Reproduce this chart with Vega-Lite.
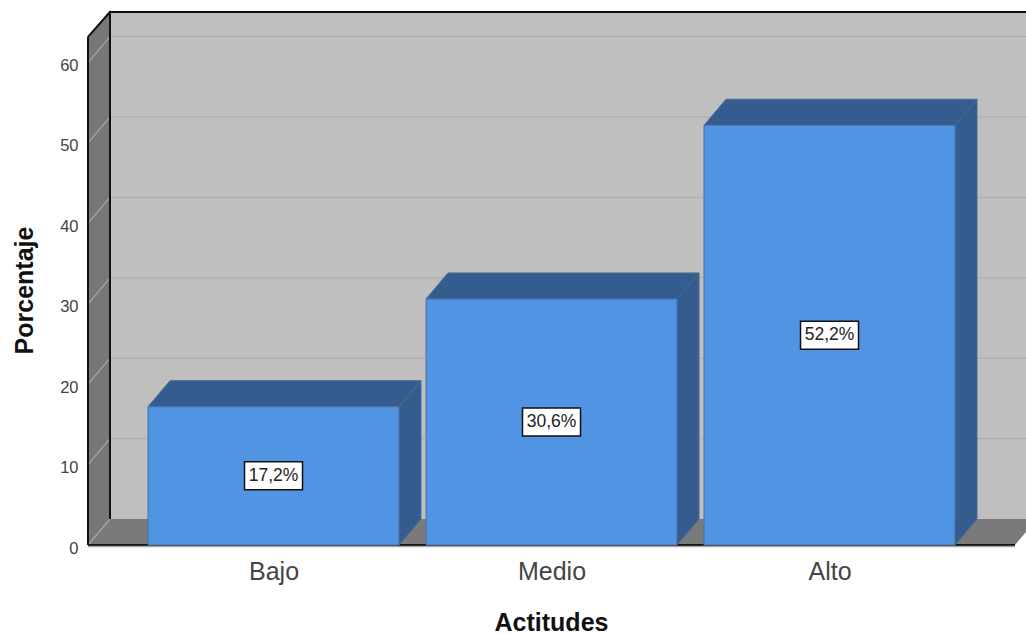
{
  "$schema": "https://vega.github.io/schema/vega-lite/v6.json",
  "width": 938,
  "height": 533,
  "autosize": {"type": "none"},
  "padding": {"left": 88, "top": 12, "right": 0, "bottom": 89},
  "background": "white",
  "view": {"stroke": null},
  "params": [
    {"name": "dx", "value": 0.0791},
    {"name": "dy", "value": 3.234},
    {"name": "xIni", "value": -0.6673},
    {"name": "xFin", "value": 2.667},
    {"name": "yFrente", "value": 63.2},
    {"name": "mitad", "value": 0.4514}
  ],
  "datasets": {
    "barras": [
      {"Actitud": "Bajo", "orden": 0, "Porcentaje": 17.2, "etiqueta": "17,2%"},
      {"Actitud": "Medio", "orden": 1, "Porcentaje": 30.6, "etiqueta": "30,6%"},
      {"Actitud": "Alto", "orden": 2, "Porcentaje": 52.2, "etiqueta": "52,2%"}
    ],
    "bordes": [{"borde": 0}, {"borde": 1}],
    "niveles": [{"nivel": 0}, {"nivel": 10}, {"nivel": 20}, {"nivel": 30}, {"nivel": 40}, {"nivel": 50}, {"nivel": 60}]
  },
  "config": {
    "axisX": {
      "domain": false, "ticks": false, "grid": false,
      "labelFont": "Liberation Sans", "labelFontSize": 25, "labelColor": "#444444", "labelPadding": 14,
      "labelFlush": false, "labelOverlap": false,
      "titleFont": "Liberation Sans", "titleFontSize": 25, "titleFontWeight": "bold", "titleColor": "#111111",
      "titleX": 463, "titleY": 77, "titleBaseline": "middle", "titleAnchor": "middle", "titleAlign": "center"
    },
    "axisY": {
      "domain": false, "ticks": false, "grid": false,
      "labelFont": "Liberation Sans", "labelFontSize": 16.5, "labelColor": "#444444", "labelPadding": 10, "labelOffset": 3,
      "labelFlush": false,
      "titleFont": "Liberation Sans", "titleFontSize": 25, "titleFontWeight": "bold", "titleColor": "#111111",
      "titleX": -64, "titleY": 278, "titleAngle": -90, "titleBaseline": "middle", "titleAlign": "center"
    }
  },
  "layer": [
    {
      "data": {"values": [{"izq": -0.5882, "der": 2.7068, "abajo": 3.234, "arriba": 66.29}]},
      "mark": {"type": "rect", "fill": "#bfbfbf"},
      "encoding": {
        "x": {
          "field": "izq", "type": "quantitative",
          "scale": {"domain": [-0.6673, 2.7068], "nice": false, "zero": false},
          "axis": {"title": "Actitudes", "values": [0, 1, 2], "labelExpr": "['Bajo','Medio','Alto'][datum.value]"}
        },
        "x2": {"field": "der"},
        "y": {
          "field": "abajo", "type": "quantitative",
          "scale": {"domain": [0, 66.29], "nice": false, "zero": false},
          "axis": {"title": "Porcentaje", "values": [0, 10, 20, 30, 40, 50, 60]}
        },
        "y2": {"field": "arriba"}
      }
    },
    {
      "data": {"name": "bordes"},
      "transform": [
        {"calculate": "xIni + datum.borde * dx", "as": "px"},
        {"calculate": "datum.borde * dy", "as": "abajo"},
        {"calculate": "yFrente + datum.borde * dy", "as": "arriba"}
      ],
      "mark": {"type": "area", "fill": "#777777", "orient": "vertical"},
      "encoding": {
        "x": {"field": "px", "type": "quantitative", "scale": {"domain": [-0.6673, 2.7068], "nice": false, "zero": false}},
        "y": {"field": "abajo", "type": "quantitative", "scale": {"domain": [0, 66.29], "nice": false, "zero": false}, "stack": null},
        "y2": {"field": "arriba"}
      }
    },
    {
      "data": {"name": "bordes"},
      "transform": [
        {"calculate": "xIni + datum.borde * dx", "as": "izq"},
        {"calculate": "xFin + datum.borde * dx", "as": "der"},
        {"calculate": "datum.borde * dy", "as": "alto"}
      ],
      "mark": {"type": "area", "fill": "#7a7a7a", "orient": "horizontal", "clip": true},
      "encoding": {
        "y": {"field": "alto", "type": "quantitative", "scale": {"domain": [0, 66.29], "nice": false, "zero": false}},
        "x": {"field": "izq", "type": "quantitative", "scale": {"domain": [-0.6673, 2.7068], "nice": false, "zero": false}, "stack": null},
        "x2": {"field": "der"}
      }
    },
    {
      "data": {"name": "niveles"},
      "transform": [
        {"filter": "datum.nivel > 0"},
        {"calculate": "xIni + dx", "as": "izq"},
        {"calculate": "datum.nivel + dy", "as": "alto"},
        {"calculate": "2.7068", "as": "der"}
      ],
      "mark": {"type": "rule", "stroke": "#b0b0b0", "strokeWidth": 1.5},
      "encoding": {
        "x": {"field": "izq", "type": "quantitative", "scale": {"domain": [-0.6673, 2.7068], "nice": false, "zero": false}},
        "x2": {"field": "der"},
        "y": {"field": "alto", "type": "quantitative", "scale": {"domain": [0, 66.29], "nice": false, "zero": false}}
      }
    },
    {
      "data": {"name": "niveles"},
      "transform": [
        {"calculate": "xIni + dx", "as": "fondo"},
        {"calculate": "datum.nivel + dy", "as": "alto"},
        {"calculate": "xIni", "as": "frente"}
      ],
      "mark": {"type": "rule", "stroke": "#a8a8a8", "strokeWidth": 1.2},
      "encoding": {
        "x": {"field": "frente", "type": "quantitative", "scale": {"domain": [-0.6673, 2.7068], "nice": false, "zero": false}},
        "x2": {"field": "fondo"},
        "y": {"field": "nivel", "type": "quantitative", "scale": {"domain": [0, 66.29], "nice": false, "zero": false}},
        "y2": {"field": "alto"}
      }
    },
    {
      "data": {"name": "bordes"},
      "transform": [
        {"calculate": "xIni + datum.borde * dx", "as": "px"},
        {"calculate": "datum.borde * dy", "as": "abajo"},
        {"calculate": "yFrente + datum.borde * dy", "as": "arriba"}
      ],
      "mark": {"type": "rule", "stroke": "#111111", "strokeWidth": 2},
      "encoding": {
        "x": {"field": "px", "type": "quantitative", "scale": {"domain": [-0.6673, 2.7068], "nice": false, "zero": false}},
        "y": {"field": "abajo", "type": "quantitative", "scale": {"domain": [0, 66.29], "nice": false, "zero": false}},
        "y2": {"field": "arriba"}
      }
    },
    {
      "data": {"values": [{"x1": -0.6673, "x2": -0.5882, "y1": 63.2, "y2": 66.29}, {"x1": -0.5882, "x2": 2.7068, "y1": 66.29, "y2": 66.29}, {"x1": -0.6673, "x2": 2.667, "y1": 0, "y2": 0}]},
      "mark": {"type": "rule", "stroke": "#111111", "strokeWidth": 2},
      "encoding": {
        "x": {"field": "x1", "type": "quantitative", "scale": {"domain": [-0.6673, 2.7068], "nice": false, "zero": false}},
        "x2": {"field": "x2"},
        "y": {"field": "y1", "type": "quantitative", "scale": {"domain": [0, 66.29], "nice": false, "zero": false}},
        "y2": {"field": "y2"}
      }
    },
    {
      "data": {"name": "barras"},
      "transform": [
        {"calculate": "[0, 1]", "as": "bordes"},
        {"flatten": ["bordes"], "as": ["borde"]},
        {"calculate": "datum.orden + mitad + datum.borde * dx", "as": "px"},
        {"calculate": "datum.borde * dy", "as": "abajo"},
        {"calculate": "datum.Porcentaje + datum.borde * dy", "as": "arriba"}
      ],
      "mark": {"type": "area", "fill": "#345c8e", "stroke": "#4a6a94", "strokeWidth": 1, "orient": "vertical"},
      "encoding": {
        "detail": {"field": "Actitud"},
        "x": {"field": "px", "type": "quantitative", "scale": {"domain": [-0.6673, 2.7068], "nice": false, "zero": false}},
        "y": {"field": "abajo", "type": "quantitative", "scale": {"domain": [0, 66.29], "nice": false, "zero": false}, "stack": null},
        "y2": {"field": "arriba"}
      }
    },
    {
      "data": {"name": "barras"},
      "transform": [
        {"calculate": "[0, 1]", "as": "bordes"},
        {"flatten": ["bordes"], "as": ["borde"]},
        {"calculate": "datum.orden - mitad + datum.borde * dx", "as": "izq"},
        {"calculate": "datum.orden + mitad + datum.borde * dx", "as": "der"},
        {"calculate": "datum.Porcentaje + datum.borde * dy", "as": "alto"}
      ],
      "mark": {"type": "area", "fill": "#345c8e", "stroke": "#4a6a94", "strokeWidth": 1, "orient": "horizontal"},
      "encoding": {
        "detail": {"field": "Actitud"},
        "y": {"field": "alto", "type": "quantitative", "scale": {"domain": [0, 66.29], "nice": false, "zero": false}},
        "x": {"field": "izq", "type": "quantitative", "scale": {"domain": [-0.6673, 2.7068], "nice": false, "zero": false}, "stack": null},
        "x2": {"field": "der"}
      }
    },
    {
      "data": {"name": "barras"},
      "transform": [
        {"calculate": "datum.orden - mitad", "as": "izq"},
        {"calculate": "datum.orden + mitad", "as": "der"},
        {"calculate": "0", "as": "base"}
      ],
      "mark": {"type": "rect", "fill": "#5294e4", "stroke": "#47709f", "strokeWidth": 1},
      "encoding": {
        "x": {"field": "izq", "type": "quantitative", "scale": {"domain": [-0.6673, 2.7068], "nice": false, "zero": false}},
        "x2": {"field": "der"},
        "y": {"field": "Porcentaje", "type": "quantitative", "scale": {"domain": [0, 66.29], "nice": false, "zero": false}},
        "y2": {"field": "base"}
      }
    },
    {
      "data": {"values": [{"x1": -0.6673, "x2": 2.667, "y1": -0.2}]},
      "mark": {"type": "rule", "stroke": "#a6a6a6", "strokeWidth": 1.5},
      "encoding": {
        "x": {"field": "x1", "type": "quantitative", "scale": {"domain": [-0.6673, 2.7068], "nice": false, "zero": false}},
        "x2": {"field": "x2"},
        "y": {"field": "y1", "type": "quantitative", "scale": {"domain": [0, 66.29], "nice": false, "zero": false}}
      }
    },
    {
      "data": {"name": "barras"},
      "transform": [{"calculate": "datum.Porcentaje / 2", "as": "medio"}],
      "mark": {"type": "rect", "fill": "white", "stroke": "#111111", "strokeWidth": 1.5, "width": 58, "height": 28},
      "encoding": {
        "x": {"field": "orden", "type": "quantitative", "scale": {"domain": [-0.6673, 2.7068], "nice": false, "zero": false}},
        "y": {"field": "medio", "type": "quantitative", "scale": {"domain": [0, 66.29], "nice": false, "zero": false}}
      }
    },
    {
      "data": {"name": "barras"},
      "transform": [{"calculate": "datum.Porcentaje / 2", "as": "medio"}],
      "mark": {"type": "text", "font": "Liberation Sans", "fontSize": 17.5, "fill": "#222222", "align": "center", "baseline": "middle"},
      "encoding": {
        "x": {"field": "orden", "type": "quantitative", "scale": {"domain": [-0.6673, 2.7068], "nice": false, "zero": false}},
        "y": {"field": "medio", "type": "quantitative", "scale": {"domain": [0, 66.29], "nice": false, "zero": false}},
        "text": {"field": "etiqueta"}
      }
    }
  ]
}
